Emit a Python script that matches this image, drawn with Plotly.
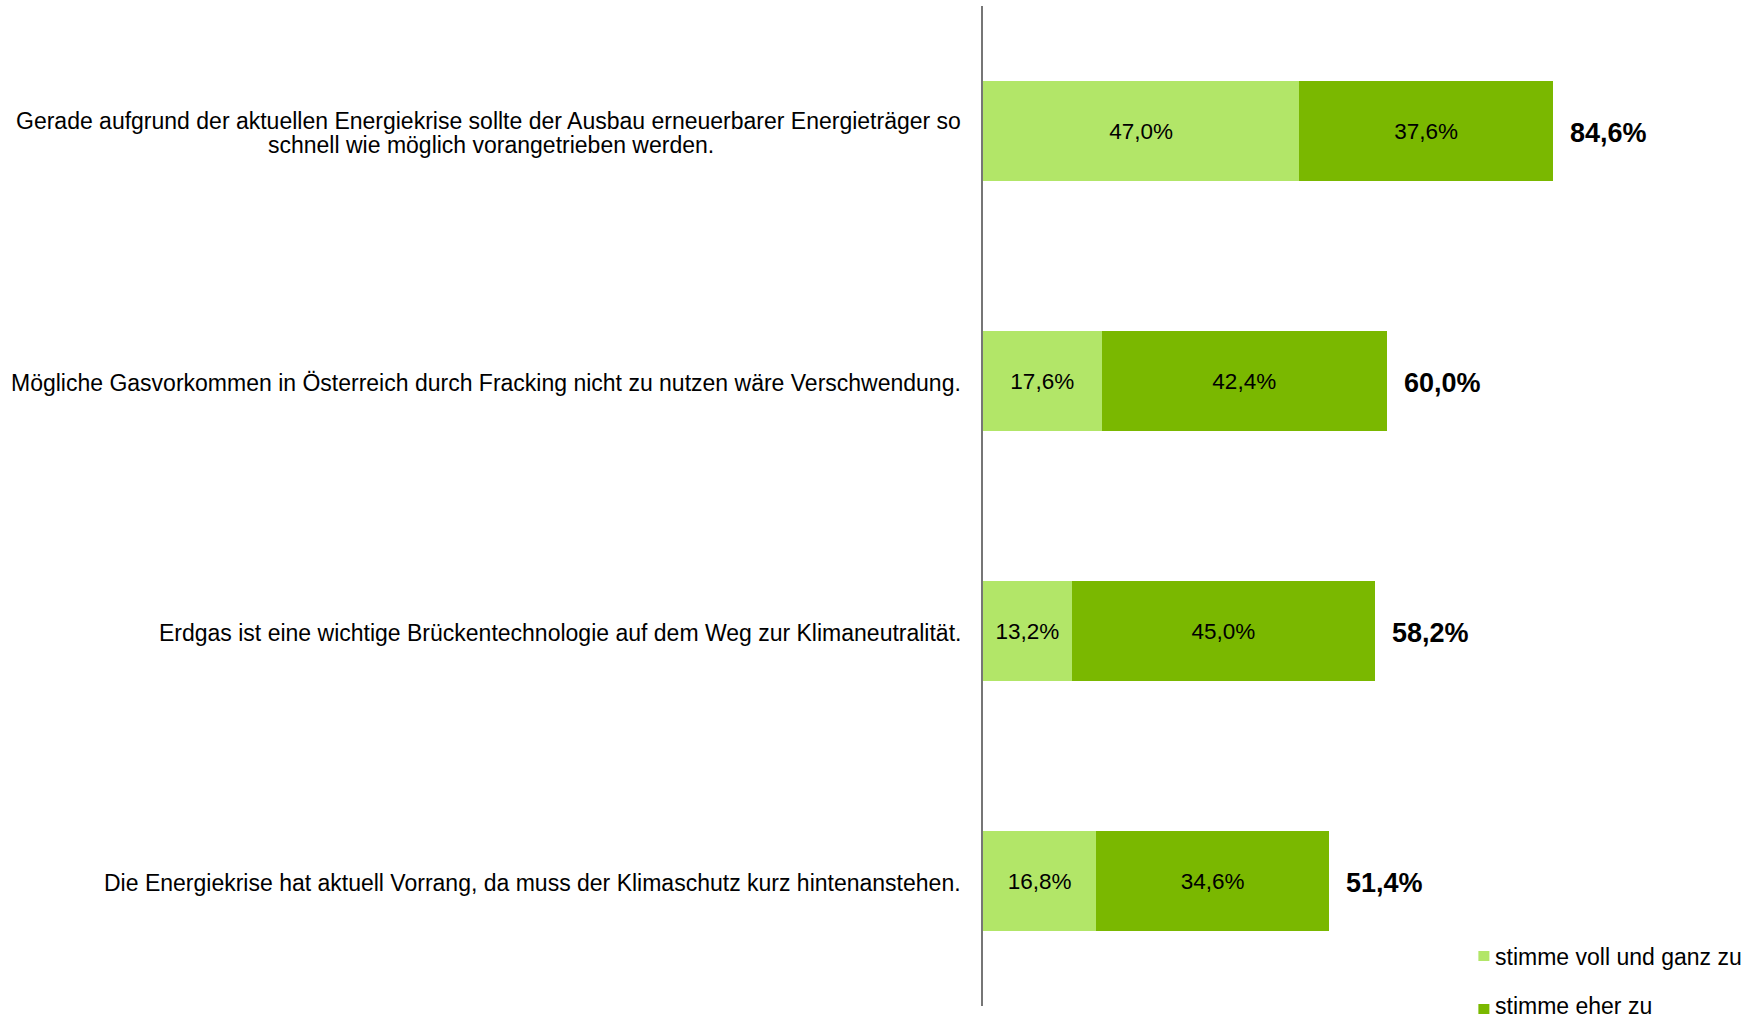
import plotly.graph_objects as go

categories = [
    "Gerade aufgrund der aktuellen Energiekrise sollte der Ausbau erneuerbarer Energieträger so<br>schnell wie möglich vorangetrieben werden.",
    "Mögliche Gasvorkommen in Österreich durch Fracking nicht zu nutzen wäre Verschwendung.",
    "Erdgas ist eine wichtige Brückentechnologie auf dem Weg zur Klimaneutralität.",
    "Die Energiekrise hat aktuell Vorrang, da muss der Klimaschutz kurz hintenanstehen.",
]
voll = [47.0, 17.6, 13.2, 16.8]
eher = [37.6, 42.4, 45.0, 34.6]
totals = [84.6, 60.0, 58.2, 51.4]
series_names = ["stimme voll und ganz zu", "stimme eher zu"]
series_colors = ["#B2E668", "#7AB800"]

FONT = "Liberation Sans, Arial, sans-serif"


def fmt(v):
    return f"{v:.1f}".replace(".", ",") + "%"


ids = list(range(len(categories)))

fig = go.Figure()
for name, vals, col in zip(series_names, [voll, eher], series_colors):
    fig.add_trace(go.Bar(
        y=ids, x=vals, orientation="h", name=name,
        marker=dict(color=col, line=dict(width=0)),
        text=[fmt(v) for v in vals], textposition="inside",
        insidetextanchor="middle", textangle=0, constraintext="none",
        textfont=dict(family=FONT, size=22.5, color="#000000"),
        showlegend=False, hoverinfo="skip",
    ))

annotations = []
# category labels (multi-line labels split to control line spacing)
LINE_H = 24.7
for i, cat in enumerate(categories):
    lines = cat.split("<br>")
    n = len(lines)
    for k, line in enumerate(lines):
        annotations.append(dict(
            x=0, xref="paper", y=i, yref="y", text=line, showarrow=False,
            xanchor="right" if k == 0 else "center", yanchor="middle",
            xshift=-20, yshift=((n - 1) / 2 - k) * LINE_H - 2,
            font=dict(family=FONT, size=23, color="#000000"),
            name=f"cat{i}_{k}",
        ))

# totals
for i, t in enumerate(totals):
    annotations.append(dict(
        x=t, xref="x", y=i, yref="y", text="<b>" + fmt(t) + "</b>",
        showarrow=False, xanchor="left", yanchor="middle", xshift=15,
        yshift=-1.5,
        font=dict(family=FONT, size=27, color="#000000"),
    ))

# manual legend (bottom right)
shapes = []
legend_rows = [(0.045, 0.055, 0.049), (-0.008, 0.002, 0.0005)]
for (y0, y1, yt), name, col in zip(legend_rows, series_names, series_colors):
    shapes.append(dict(type="rect", xref="paper", yref="paper",
                       x0=0.6392, x1=0.6534, y0=y0, y1=y1,
                       fillcolor=col, line=dict(width=0)))
    annotations.append(dict(
        x=0.6575, xref="paper", y=yt, yref="paper", text=name,
        showarrow=False, xanchor="left", yanchor="middle",
        font=dict(family=FONT, size=23, color="#000000"),
    ))

fig.update_layout(
    width=1758, height=1019, autosize=False,
    margin=dict(l=983, r=0, t=6, b=13, pad=0),
    barmode="stack", bargap=0.6,
    plot_bgcolor="white", paper_bgcolor="white",
    showlegend=False,
    xaxis=dict(range=[0, 115.1], visible=False, fixedrange=True),
    yaxis=dict(range=[len(categories) - 0.5, -0.5], showticklabels=False,
               showgrid=False, zeroline=False, ticks="",
               showline=True, linecolor="#767676", linewidth=2,
               fixedrange=True),
    annotations=annotations, shapes=shapes,
    font=dict(family=FONT, size=22, color="#000000"),
)

# remove page margin and center continuation lines of multi-line labels
post = """
(function(){
  document.body.style.margin = '0px';
  var gd = document.querySelector('.plotly-graph-div');
  var anns = gd.querySelectorAll('.annotation');
  var L = gd.layout.annotations;
  var upd = {};
  for (var j = 0; j < L.length; j++) {
    var m = (L[j].name || '').match(/^cat(\\d+)_(\\d+)$/);
    if (m && m[2] !== '0') {
      for (var q = 0; q < L.length; q++) {
        if (L[q].name === 'cat' + m[1] + '_0') {
          var w = anns[q].querySelector('text').getComputedTextLength();
          upd['annotations[' + j + '].xshift'] = L[q].xshift - w / 2;
        }
      }
    }
  }
  Plotly.relayout(gd, upd);
})();
"""

fig.write_html("out.html", post_script=post, config={"displayModeBar": False})
